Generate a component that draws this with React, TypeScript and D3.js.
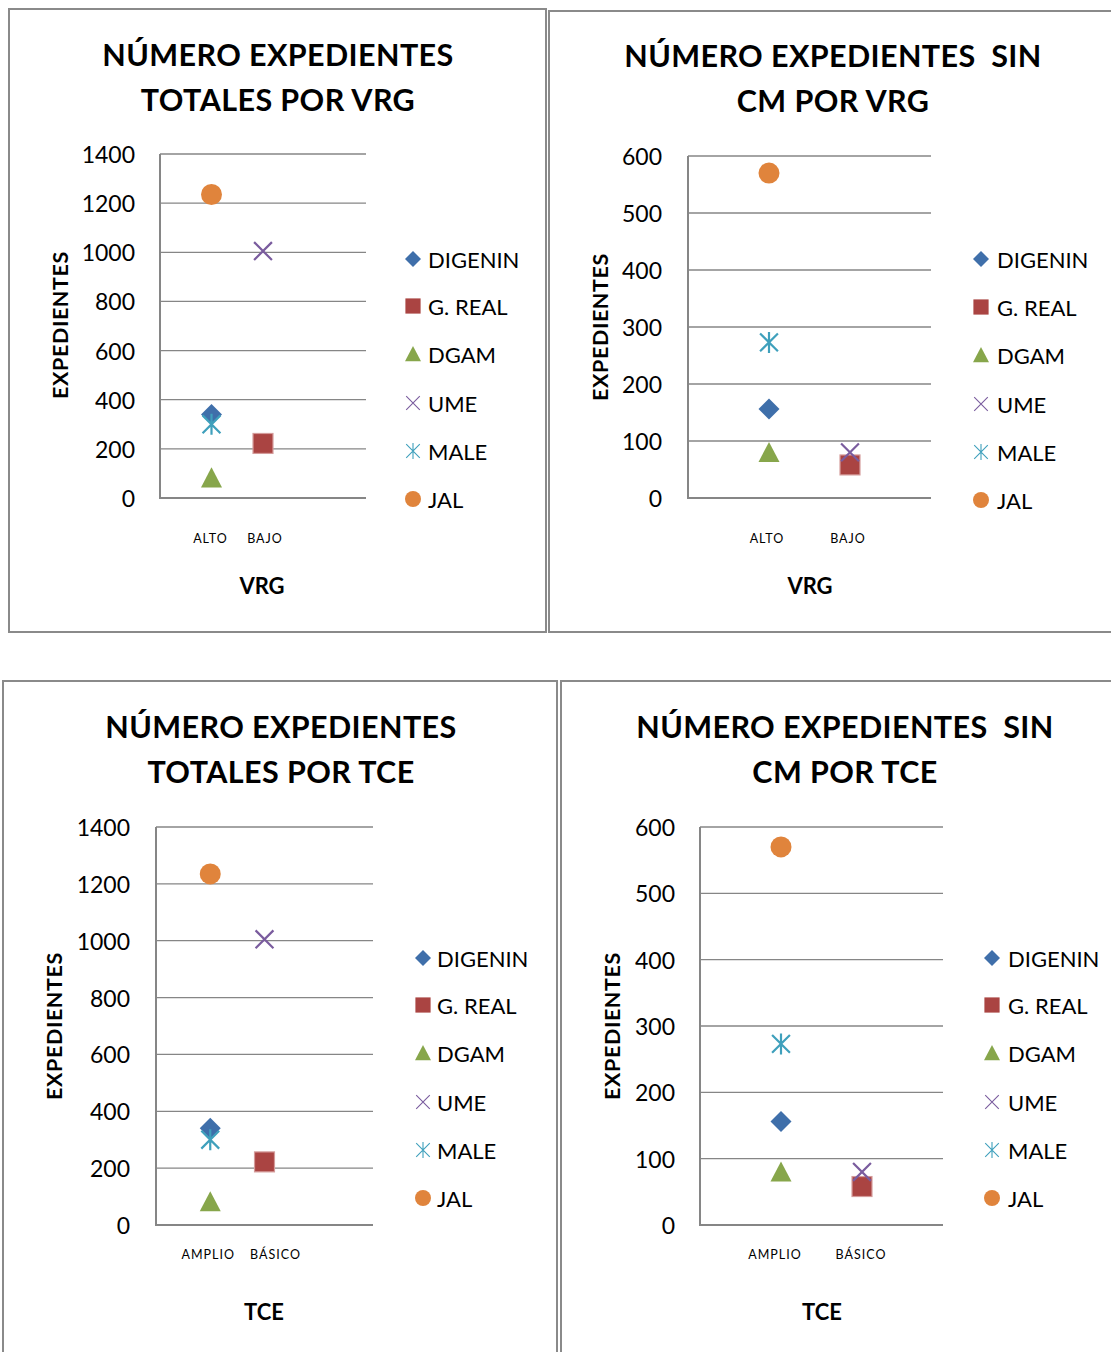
import React from "react";
import * as d3 from "d3";

// ---------- DATA ----------
const seriesNames = ["DIGENIN", "G. REAL", "DGAM", "UME", "MALE", "JAL"];
const seriesColors = ["#3F6FAA", "#AA4442", "#87A64B", "#7A5C9E", "#3FA0BC", "#E0843C"];
const seriesShapes = ["diamond", "square", "triangle", "x", "star", "circle"];
// index of the category in which each series has its (single) value
const seriesCategoryIndex = [0, 1, 0, 1, 0, 0];

const vrgCategories = ["ALTO", "BAJO"];
const tceCategories = ["AMPLIO", "BÁSICO"];

const totalValues = [340, 222, 82, 1005, 300, 1235];
const sinCmValues = [156, 58, 80, 80, 273, 570];

const totalTicks = [0, 200, 400, 600, 800, 1000, 1200, 1400];
const sinCmTicks = [0, 100, 200, 300, 400, 500, 600];

// ---------- LAYOUT ----------
type PanelCfg = {
  titleLines: string[];
  categories: string[];
  values: number[];
  ticks: number[];
  xAxisTitle: string;
  box: { x: number; y: number; w: number; h: number };
  plot: { l: number; t: number; r: number; b: number };
  xMax: number;
  catDx: number[];
  titleX: number;
  titleY: number[];
  yTitleX: number;
  yTitleY: number;
  tickRight: number;
  legendMarkerX: number;
  legendTextX: number;
  legendY: number[];
  catY: number;
  axisTitleX: number;
  axisTitleY: number;
};

const FONT = "Lato, 'Open Sans', sans-serif";
const GRID = "#868686";

const panels: PanelCfg[] = [
  {
    titleLines: ["NÚMERO EXPEDIENTES", "TOTALES POR VRG"],
    categories: vrgCategories,
    values: totalValues,
    ticks: totalTicks,
    xAxisTitle: "VRG",
    box: { x: 9, y: 9, w: 537, h: 623 },
    plot: { l: 160, t: 154, r: 366, b: 498 },
    xMax: 4,
    catDx: [-1, 2],
    titleX: 278,
    titleY: [54, 99],
    yTitleX: 60,
    yTitleY: 325,
    tickRight: 135,
    legendMarkerX: 413,
    legendTextX: 428,
    legendY: [259, 306, 354, 403, 451, 499],
    catY: 538,
    axisTitleX: 262,
    axisTitleY: 585,
  },
  {
    titleLines: ["NÚMERO EXPEDIENTES  SIN", "CM POR VRG"],
    categories: vrgCategories,
    values: sinCmValues,
    ticks: sinCmTicks,
    xAxisTitle: "VRG",
    box: { x: 549, y: 11, w: 600, h: 621 },
    plot: { l: 688, t: 156, r: 931, b: 498 },
    xMax: 3,
    catDx: [-2, -2],
    titleX: 833,
    titleY: [55, 100],
    yTitleX: 600,
    yTitleY: 327,
    tickRight: 662,
    legendMarkerX: 981,
    legendTextX: 997,
    legendY: [259, 307, 355, 404, 452, 500],
    catY: 538,
    axisTitleX: 810,
    axisTitleY: 585,
  },
  {
    titleLines: ["NÚMERO EXPEDIENTES", "TOTALES POR TCE"],
    categories: tceCategories,
    values: totalValues,
    ticks: totalTicks,
    xAxisTitle: "TCE",
    box: { x: 3, y: 681, w: 554, h: 700 },
    plot: { l: 156, t: 827, r: 373, b: 1225 },
    xMax: 4,
    catDx: [-2, 11],
    titleX: 281,
    titleY: [726, 771],
    yTitleX: 54,
    yTitleY: 1026,
    tickRight: 130,
    legendMarkerX: 423,
    legendTextX: 437,
    legendY: [958, 1005, 1053, 1102, 1150, 1198],
    catY: 1254,
    axisTitleX: 264,
    axisTitleY: 1311,
  },
  {
    titleLines: ["NÚMERO EXPEDIENTES  SIN", "CM POR TCE"],
    categories: tceCategories,
    values: sinCmValues,
    ticks: sinCmTicks,
    xAxisTitle: "TCE",
    box: { x: 561, y: 681, w: 600, h: 700 },
    plot: { l: 700, t: 827, r: 943, b: 1225 },
    xMax: 3,
    catDx: [-6, -1],
    titleX: 845,
    titleY: [726, 771],
    yTitleX: 612,
    yTitleY: 1026,
    tickRight: 675,
    legendMarkerX: 992,
    legendTextX: 1008,
    legendY: [958, 1005, 1053, 1102, 1150, 1198],
    catY: 1254,
    axisTitleX: 822,
    axisTitleY: 1311,
  },
];

function Marker({ shape, color, x, y, s, thin }: { shape: string; color: string; x: number; y: number; s: number; thin?: boolean }) {
  const h = s / 2;
  if (shape === "diamond") {
    const p = d3.path();
    p.moveTo(x, y - h); p.lineTo(x + h, y); p.lineTo(x, y + h); p.lineTo(x - h, y); p.closePath();
    return <path d={p.toString()} fill={color} />;
  }
  if (shape === "square") {
    const q = h * 0.95;
    return <rect x={x - q} y={y - q} width={2 * q} height={2 * q} fill={color} stroke="#D49B9A" strokeWidth={thin ? 0 : 1.2} />;
  }
  if (shape === "triangle") {
    const p = d3.path();
    p.moveTo(x, y - h); p.lineTo(x + h, y + h * 0.92); p.lineTo(x - h, y + h * 0.92); p.closePath();
    return <path d={p.toString()} fill={color} />;
  }
  if (shape === "circle") {
    return <circle cx={x} cy={y} r={h} fill={color} />;
  }
  const q = h * 0.85;
  const p = d3.path();
  p.moveTo(x - q, y - q); p.lineTo(x + q, y + q);
  p.moveTo(x + q, y - q); p.lineTo(x - q, y + q);
  if (shape === "star") {
    p.moveTo(x, y - h); p.lineTo(x, y + h);
  }
  return <path d={p.toString()} stroke={color} strokeWidth={thin ? 1.1 : 2.2} fill="none" />;
}

function Panel({ cfg }: { cfg: PanelCfg }) {
  const { plot } = cfg;
  const yMax = cfg.ticks[cfg.ticks.length - 1];
  const y = d3.scaleLinear().domain([0, yMax]).range([plot.b, plot.t]);
  const x = d3.scaleLinear().domain([0, cfg.xMax]).range([plot.l, plot.r]);
  return (
    <g>
      <rect x={cfg.box.x} y={cfg.box.y} width={cfg.box.w} height={cfg.box.h} fill="#fff" stroke="#8A8A8A" strokeWidth={2} />
      {cfg.titleLines.map((t, i) => (
        <text key={i} x={cfg.titleX} y={cfg.titleY[i]} textAnchor="middle" dominantBaseline="central" fontFamily={FONT} fontWeight={700} fontSize={30.5} letterSpacing={0.4} fill="#000" style={{ whiteSpace: "pre" }}>
          {t}
        </text>
      ))}
      {/* gridlines */}
      {cfg.ticks.map((t) => (
        <line key={t} x1={plot.l} x2={plot.r} y1={y(t)} y2={y(t)} stroke={GRID} strokeWidth={t === 0 ? 2 : 1.3} />
      ))}
      <line x1={plot.l} x2={plot.l} y1={plot.t} y2={plot.b + 1} stroke={GRID} strokeWidth={2} />
      {cfg.ticks.map((t) => (
        <text key={"l" + t} x={cfg.tickRight} y={y(t)} textAnchor="end" dominantBaseline="central" fontFamily={FONT} fontSize={23} fill="#000">
          {t}
        </text>
      ))}
      <text transform={`translate(${cfg.yTitleX},${cfg.yTitleY}) rotate(-90)`} textAnchor="middle" dominantBaseline="central" fontFamily={FONT} fontWeight={700} fontSize={21.5} letterSpacing={0.6} fill="#000">
        EXPEDIENTES
      </text>
      {cfg.categories.map((c, i) => (
        <text key={c} x={x(i + 1) + cfg.catDx[i]} y={cfg.catY} textAnchor="middle" dominantBaseline="central" fontFamily={FONT} fontSize={12.5} letterSpacing={1} fill="#000">
          {c}
        </text>
      ))}
      <text x={cfg.axisTitleX} y={cfg.axisTitleY} textAnchor="middle" dominantBaseline="central" fontFamily={FONT} fontWeight={700} fontSize={22} fill="#000">
        {cfg.xAxisTitle}
      </text>
      {/* points */}
      {seriesNames.map((n, i) => (
        <Marker key={n} shape={seriesShapes[i]} color={seriesColors[i]} x={x(seriesCategoryIndex[i] + 1)} y={y(cfg.values[i])} s={21} />
      ))}
      {/* legend */}
      {seriesNames.map((n, i) => (
        <g key={"lg" + n}>
          <Marker shape={seriesShapes[i]} color={seriesColors[i]} x={cfg.legendMarkerX} y={cfg.legendY[i]} s={16} thin />
          <text x={cfg.legendTextX} y={cfg.legendY[i]} dominantBaseline="central" fontFamily={FONT} fontSize={22} fill="#000">
            {n}
          </text>
        </g>
      ))}
    </g>
  );
}

export default function App() {
  return (
    <svg width={1111} height={1352} style={{ position: "absolute", left: 0, top: 0, background: "#fff" }}>
      <rect x={0} y={0} width={1111} height={1352} fill="#fff" />
      {panels.map((p, i) => (
        <Panel key={i} cfg={p} />
      ))}
    </svg>
  );
}
